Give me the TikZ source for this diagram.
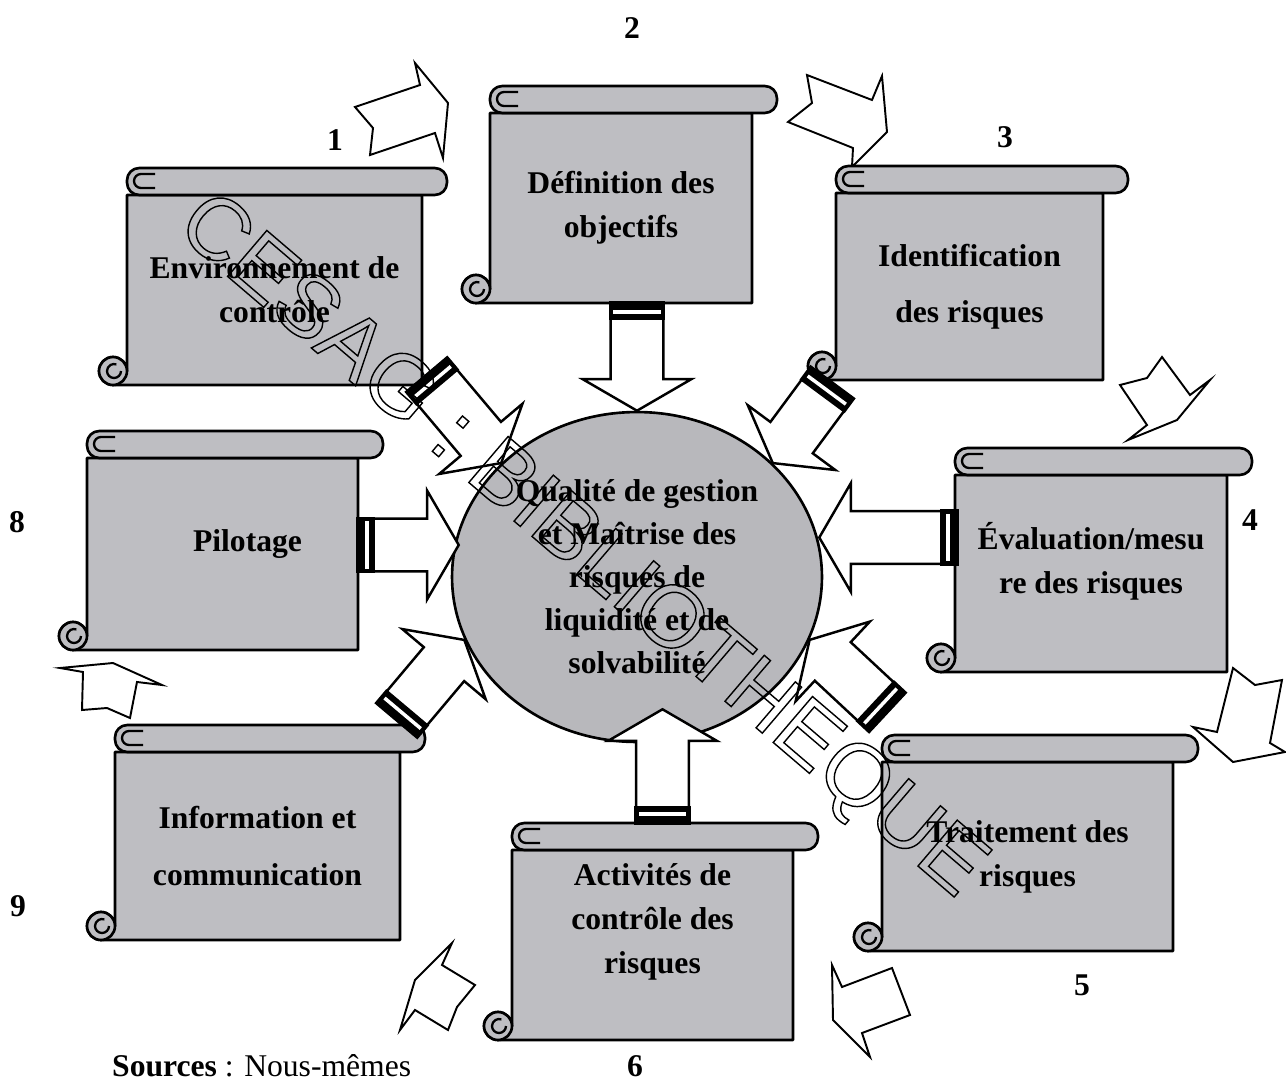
\documentclass[tikz,border=0pt]{standalone}
\usepackage{fontspec}
\setmainfont{Liberation Serif}
\newfontfamily\wmfont{Liberation Sans}
\usetikzlibrary{calc, fit, positioning, shapes.geometric}

\definecolor{scrollgray}{RGB}{190,190,194}
\definecolor{coregray}{RGB}{184,184,188}

% scroll: name, left, top, right, bottom of the body (px, y down)
\newcommand\scrollbox[5]{%
  \path (#2,#3) coordinate (#1-nw) (#4,#5) coordinate (#1-se);
  \node[inner sep=0pt, outer sep=0pt, fit=(#1-nw)(#1-se)] (#1) {};
  \draw[scroll] (#4,#3) -- (#4,#5) -- ({#2-14},#5)
    arc[start angle=90, end angle=360, radius=14] -- (#2,#3) -- cycle;
  \draw[scroll] ({#2-14},{#5-14}) circle[radius=14];
  \draw[curl] ({#2-6},{#5-14}) arc[start angle=0, end angle=290, radius=7];
  \draw[scroll, rounded corners=7pt] (#2,{#3-27}) rectangle ({#4+25},#3);
  \draw[curl] ({#2+28},{#3-21}) -- ({#2+14},{#3-21})
    arc[start angle=270, end angle=90, radius=7] -- ({#2+28},{#3-7});
}

% block arrow with a double bar at its base
\newcommand\feed[2]{%
  \draw[feedbody] let \p1=($(#2)-(#1)$), \n1={atan2(\y1,\x1)}, \n2={veclen(\x1,\y1)} in
    [shift={(#1)}, rotate=\n1]
    (0pt,-15pt) -- (\n2-18pt,-15pt) -- (\n2-18pt,-31pt) -- (\n2+0pt,0pt)
    -- (\n2-18pt,31pt) -- (\n2-18pt,15pt) -- (0pt,15pt) -- cycle;
  \fill let \p1=($(#2)-(#1)$), \n1={atan2(\y1,\x1)} in
    [shift={(#1)}, rotate=\n1] (-1pt,-16pt) rectangle (9.5pt,16pt);
  \fill[white] let \p1=($(#2)-(#1)$), \n1={atan2(\y1,\x1)} in
    [shift={(#1)}, rotate=\n1] (4pt,-13.5pt) rectangle (6pt,13.5pt);
}

\newcommand\hollow[1]{\special{pdf:literal direct 1 Tr 0.8 w}#1\special{pdf:literal direct 0 Tr}}

\begin{document}
\begin{tikzpicture}[
    x=0.02cm, y=-0.02cm,
    scroll/.style={draw, fill=scrollgray, line width=1.5pt, line join=round},
    curl/.style={line width=1.3pt},
    core/.style={ellipse, draw, fill=coregray, line width=1.5pt, minimum width=7.4cm,
      minimum height=6.6cm, inner sep=0pt, align=center,
      font=\fontsize{18}{24.5}\selectfont\bfseries},
    lbl/.style={align=center, font=\fontsize{18}{25}\selectfont\bfseries},
    num/.style={font=\fontsize{18}{22}\selectfont\bfseries},
    feedbody/.style={draw, fill=white, line width=1.4pt, line join=miter},
    cyc/.style={draw, fill=white, line width=1.1pt, line join=miter},
  ]
  \useasboundingbox (0,0) rectangle (1286,1082);

  % cycle arrows
  \draw[cyc] (355,107) -- (420,85) -- (415,63) -- (448,103) -- (443,158) -- (435,133) -- (370,155) -- (373,128) -- cycle;
  \draw[cyc] (807,75) -- (872,100) -- (882,76) -- (887,132) -- (852,167) -- (853,148) -- (788,122) -- (812,103) -- cycle;
  \draw[cyc] (1162,357) -- (1190,395) -- (1210,380) -- (1177,420) -- (1128,440) -- (1147,425) -- (1120,385) -- (1147,378) -- cycle;
  \draw[cyc] (1233,668) -- (1255,685) -- (1282,680) -- (1270,743) -- (1285,752) -- (1233,762) -- (1193,727) -- (1217,732) -- cycle;
  \draw[cyc] (832,965) -- (842,987) -- (892,968) -- (910,1015) -- (862,1033) -- (870,1057) -- (833,1020) -- cycle;
  \draw[cyc] (452,943) -- (442,965) -- (475,985) -- (457,1007) -- (448,1030) -- (415,1010) -- (400,1030) -- (415,980) -- cycle;
  \draw[cyc] (60,668) -- (83,672) -- (82,710) -- (107,708) -- (130,718) -- (137,682) -- (162,685) -- (113,663) -- cycle;

  % scrolls
  \scrollbox{env}{127}{195}{422}{385}
  \scrollbox{def}{490}{113}{752}{303}
  \scrollbox{ident}{836}{193}{1103}{380}
  \scrollbox{eval}{955}{475}{1227}{672}
  \scrollbox{trait}{882}{762}{1173}{951}
  \scrollbox{activ}{512}{850}{793}{1040}
  \scrollbox{info}{115}{752}{400}{940}
  \scrollbox{pilot}{87}{458}{358}{650}

  \node[lbl] (envT) at (env) {Environnement de\\contrôle};
  \node[lbl] (defT) at (def) {Définition des\\objectifs};
  \node[lbl] (identT) at (ident) {Identification\\[7pt]des risques};
  \node[lbl] (evalT) at ($(eval)+(0,-12)$) {Évaluation/mesu\\re des risques};
  \node[lbl] (traitT) at (trait) {Traitement des\\risques};
  \node[lbl] (activT) at ($(activ)+(0,-23)$) {Activités de\\contrôle des\\risques};
  \node[lbl] (infoT) at (info) {Information et\\[7pt]communication};
  \node[lbl] (pilotT) at ($(pilot)+(25,-10)$) {Pilotage};

  \node[core] (core) at (637,577) {Qualité de gestion\\et Maîtrise des\\risques de\\liquidité et de\\solvabilité};

  % arrows to the centre
  \coordinate (envS) at ($(env.south east)+(5,-10)$);
  \coordinate (defS) at (def.south -| core.north);
  \coordinate (idS) at ($(ident.south west)+(-4,3)$);
  \coordinate (evS) at ($(eval.west)+(2,-36)$);
  \coordinate (evT) at ($(evS -| core.east)+(-4,0)$);
  \coordinate (trS) at ($(trait.north west)+(5,-50)$);
  \coordinate (acS) at ($(activ.north)+(10,-27)$);
  \coordinate (acT) at ($(acS |- core.south)+(0,-34)$);
  \coordinate (inS) at ($(info.north east)+(-3,-32)$);
  \coordinate (piS) at ($(pilot.east)+(0,-9)$);
  \coordinate (piT) at ($(piS -| core.west)+(8,0)$);
  \feed{envS}{core.140}
  \feed{defS}{core.north}
  \feed{idS}{core.40}
  \feed{evS}{evT}
  \feed{trS}{core.340}
  \feed{acS}{acT}
  \feed{inS}{core.200}
  \feed{piS}{piT}

  % step numbers
  \node[num] (n1) at (335,140) {1};
  \node[num] (n2) at (632,28) {2};
  \node[num] (n3) at (1005,137) {3};
  \node[num] (n4) at (1250,520) {4};
  \node[num] (n5) at (1082,985) {5};
  \node[num] (n6) at (635,1066) {6};
  \node[num] (n8) at (17,522) {8};
  \node[num] (n9) at (18,906) {9};

  \node[anchor=west, font=\fontsize{18}{22}\selectfont] (src) at (106,1066) {\textbf{Sources} : Nous-mêmes};

  \node[rotate=-40.5, font=\wmfont\fontsize{50}{50}\selectfont] (wm) at (580,548) {\hollow{CESAG : BIBLIOTHEQUE}};
\end{tikzpicture}
\end{document}
